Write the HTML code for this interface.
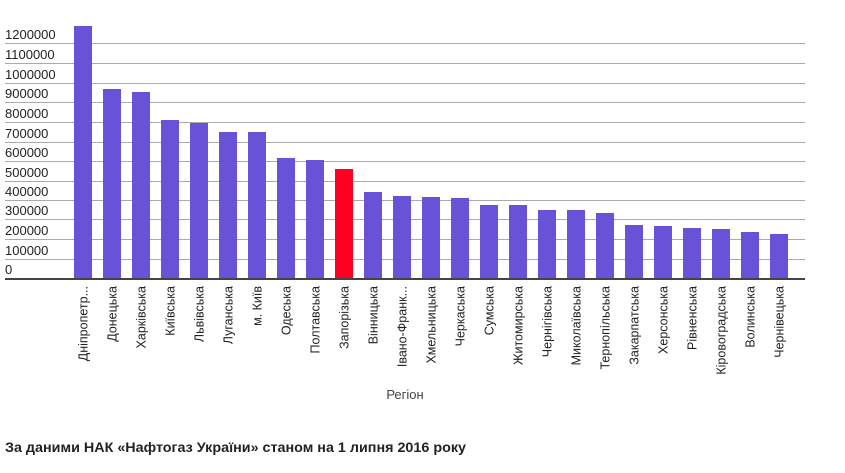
<!DOCTYPE html>
<html><head><meta charset="utf-8"><style>
body{margin:0;background:#fff;width:845px;height:468px;overflow:hidden;font-family:"Liberation Sans",sans-serif}
</style></head><body>
<svg width="845" height="468" xmlns="http://www.w3.org/2000/svg" font-family="Liberation Sans, sans-serif">
<g stroke="#aaa" stroke-width="1">
<line x1="5" x2="805" y1="43.5" y2="43.5"/><line x1="5" x2="805" y1="63.5" y2="63.5"/><line x1="5" x2="805" y1="83.5" y2="83.5"/><line x1="5" x2="805" y1="102.5" y2="102.5"/><line x1="5" x2="805" y1="122.5" y2="122.5"/><line x1="5" x2="805" y1="142.5" y2="142.5"/><line x1="5" x2="805" y1="161.5" y2="161.5"/><line x1="5" x2="805" y1="181.5" y2="181.5"/><line x1="5" x2="805" y1="200.5" y2="200.5"/><line x1="5" x2="805" y1="219.5" y2="219.5"/><line x1="5" x2="805" y1="239.5" y2="239.5"/><line x1="5" x2="805" y1="259.5" y2="259.5"/>
</g>
<g font-size="13" fill="#222">
<text x="5" y="39">1200000</text><text x="5" y="59">1100000</text><text x="5" y="79">1000000</text><text x="5" y="98">900000</text><text x="5" y="118">800000</text><text x="5" y="138">700000</text><text x="5" y="157">600000</text><text x="5" y="177">500000</text><text x="5" y="196">400000</text><text x="5" y="215">300000</text><text x="5" y="235">200000</text><text x="5" y="255">100000</text><text x="5" y="274">0</text>
</g>
<g fill="#6a52d8" id="bars"></g>
<line x1="5" x2="805" y1="279" y2="279" stroke="#444" stroke-width="2"/>
<g id="labels" font-size="12.5" fill="#222"></g>
<text x="405" y="399" font-size="13" fill="#444" text-anchor="middle">Регіон</text>
<text x="5" y="452" font-size="14" font-weight="bold" fill="#222" textLength="461" lengthAdjust="spacingAndGlyphs">За даними НАК «Нафтогаз України» станом на 1 липня 2016 року</text>
<script>
var names=["Дніпропетр...","Донецька","Харківська","Київська","Львівська","Луганська","м. Київ","Одеська","Полтавська","Запорізька","Вінницька","Івано-Франк...","Хмельницька","Черкаська","Сумська","Житомирська","Чернігівська","Миколаївська","Тернопільська","Закарпатська","Херсонська","Рівненська","Кіровоградська","Волинська","Чернівецька"];
var tops=[26,89,92,120,123,132,132,158,160,169,192,196,197,198,205,205,210,210,213,225,226,228,229,232,234];
var b=document.getElementById('bars'),l=document.getElementById('labels'),ns="http://www.w3.org/2000/svg";
for(var i=0;i<25;i++){var x=74+i*29;var r=document.createElementNS(ns,'rect');r.setAttribute('x',x);r.setAttribute('y',tops[i]);r.setAttribute('width',18);r.setAttribute('height',279-tops[i]);if(i==9)r.setAttribute('fill','#ff0022');b.appendChild(r);
var t=document.createElementNS(ns,'text');var cx=x+9+4.5;t.setAttribute('transform','translate('+cx+',286) rotate(-90)');t.setAttribute('text-anchor','end');t.textContent=names[i];l.appendChild(t);}
</script>
</svg>
</body></html>
